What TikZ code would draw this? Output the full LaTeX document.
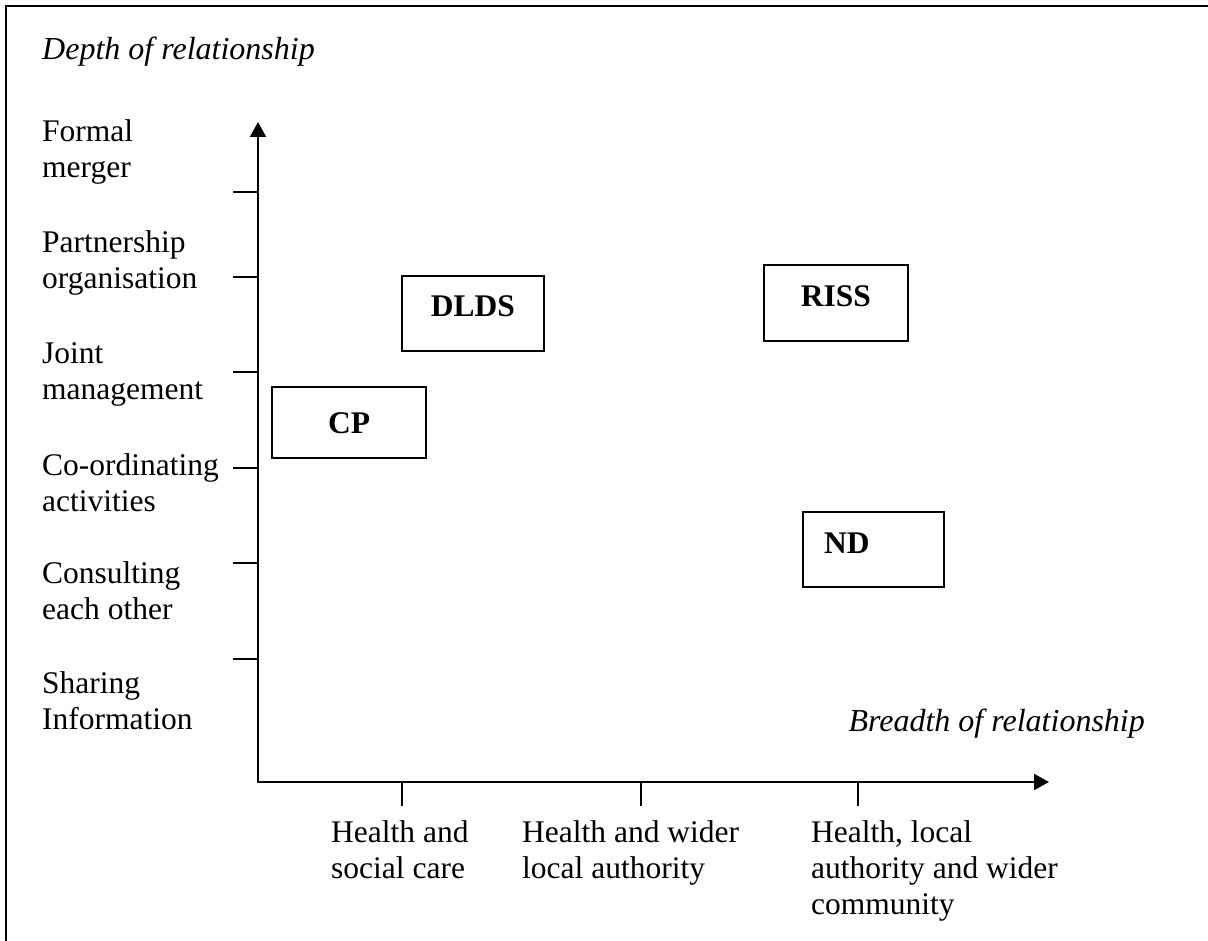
\documentclass[tikz,border=0pt]{standalone}
\usepackage{fontspec}
\setmainfont{Liberation Serif}
\usetikzlibrary{arrows.meta}
\newcommand{\twoline}[1]{\begin{tabular}[t]{@{}l@{}}#1\end{tabular}}
\begin{document}
\begin{tikzpicture}[x=1pt,y=-1pt,
  txt/.style={inner sep=0pt, font=\fontsize{31.5}{36}\selectfont},
  lab/.style={txt, anchor=base west},
  ital/.style={font=\fontsize{32}{36}\selectfont\itshape},
  box/.style={draw, line width=2pt, inner sep=0pt, font=\fontsize{31.5}{36}\selectfont\bfseries},
  raised/.style={text height=21pt, text depth=14pt},
  axisline/.style={line width=2pt, {Triangle[length=15pt,width=16pt]}-{Triangle[length=15pt,width=16pt]}},
  tickline/.style={line width=1.6pt},
  frameline/.style={line width=2.5pt}]
\useasboundingbox (0,0) rectangle (1208,941);
% frame (only top and left edges visible)
\draw[frameline] (6,950) -- (6,6) -- (1215,6);

% axes
\coordinate (O) at (258,782);
\coordinate (ytip) at (258,122);
\coordinate (xtip) at (1049,782);
\draw[axisline] (ytip) -- (O) -- (xtip);

% y ticks
\foreach \y in {192,277,372,468,563,659}
  \draw[tickline] (233,\y) -- (258,\y);
% x ticks
\foreach \x in {402,641,858}
  \draw[tickline] (\x,782) -- (\x,806);

% axis titles
\node[lab, ital] (ytitle) at (42,60) {Depth of relationship};
\node[txt, ital, anchor=base east] (xtitle) at (1145,731) {Breadth of relationship};

% y labels
\node[lab] (l1) at (42,142) {\twoline{Formal\\merger}};
\node[lab] (l2) at (42,253) {\twoline{Partnership\\organisation}};
\node[lab] (l3) at (42,363) {\twoline{Joint\\management}};
\node[lab] (l4) at (42,475) {\twoline{Co-ordinating\\activities}};
\node[lab] (l5) at (42,583) {\twoline{Consulting\\each other}};
\node[lab] (l6) at (42,693) {\twoline{Sharing\\Information}};

% x labels
\node[lab] (x1) at (331,842) {\twoline{Health and\\social care}};
\node[lab] (x2) at (522,842) {\twoline{Health and wider\\local authority}};
\node[lab] (x3) at (811,842) {\twoline{Health, local\\authority and wider\\community}};

% boxes
\node[box, raised, minimum width=142pt, minimum height=75pt] (dlds) at (473,313.5) {DLDS};
\node[box, text height=21pt, text depth=0pt, minimum width=154pt, minimum height=71pt] (cp) at (349,422.5) {CP};
\node[box, raised, minimum width=144pt, minimum height=76pt] (riss) at (836,303) {RISS};
\node[box, raised, text width=99pt, inner xsep=21pt, align=left, minimum width=141pt, minimum height=75pt] (nd) at (873.5,549.5) {ND};
\end{tikzpicture}
\end{document}
